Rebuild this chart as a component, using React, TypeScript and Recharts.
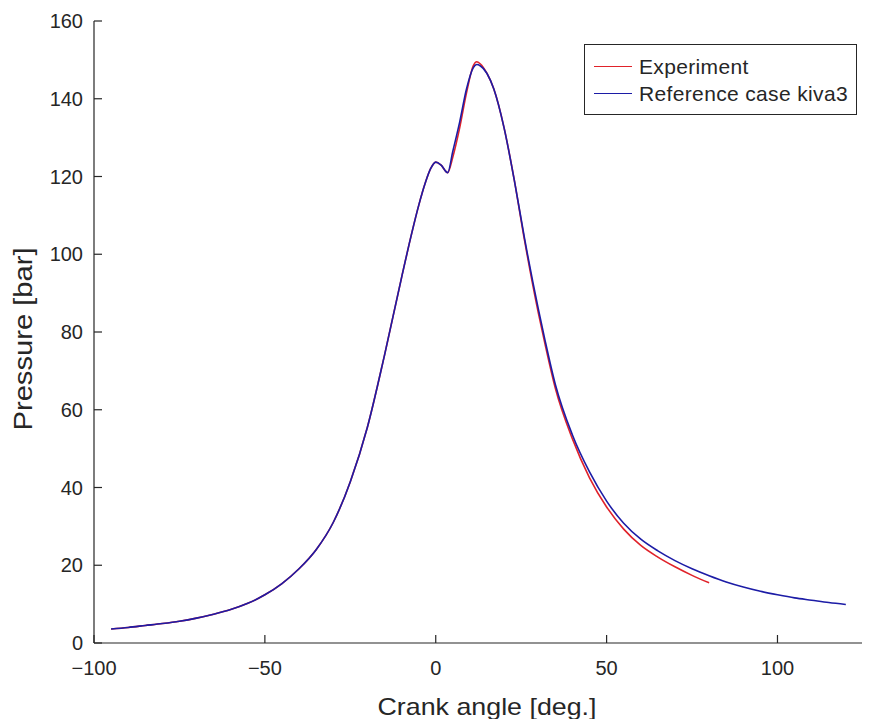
import React from 'react';
import { LineChart, Line, XAxis, YAxis } from 'recharts';

// crank angle [deg] and pressure [bar]
const kivaAngle = [-95, -90, -85, -80, -75, -70, -65, -60, -55, -50, -45, -40, -35, -30, -25, -20, -15, -10, -7, -5, -3, -1.5, 0, 1.5, 3.5, 5, 7, 9, 11, 12, 13, 15, 17, 20, 23, 26, 30, 32, 35, 40, 45, 50, 55, 60, 65, 70, 75, 80, 85, 90, 95, 100, 105, 110, 115, 120];
const kivaPressure = [3.6, 4.0, 4.5, 5.0, 5.6, 6.4, 7.4, 8.6, 10.2, 12.4, 15.3, 19.1, 24, 31, 41.5, 55.5, 74, 94, 105.5, 112.5, 118.5, 122, 123.7, 123, 121, 126.5, 134, 142.5, 148, 148.8, 148.5, 146.5, 142.5, 132.5, 119, 104, 86, 77.8, 66.5, 53.5, 44, 36.5, 30.8, 26.7, 23.7, 21.2, 19.1, 17.3, 15.7, 14.4, 13.3, 12.4, 11.6, 11.0, 10.4, 9.9];

const expAngle = [-95, -90, -85, -80, -75, -70, -65, -60, -55, -50, -45, -40, -35, -30, -25, -20, -15, -10, -7, -5, -3, -1.5, 0, 1.5, 3.5, 5, 7, 9, 11, 12, 13, 15, 17, 20, 23, 26, 30, 32, 35, 40, 45, 50, 55, 60, 65, 70, 75, 80];
const expPressure = [3.6, 4.0, 4.5, 5.0, 5.6, 6.4, 7.4, 8.6, 10.2, 12.4, 15.3, 19.1, 24, 31, 41.5, 55.5, 74, 94, 105.5, 112.5, 118.5, 122, 123.7, 123, 121, 125, 132.5, 141.5, 148.5, 149.5, 149, 146.5, 142.5, 132.5, 119, 103.5, 85, 76.8, 65.5, 52.5, 42.5, 35, 29.3, 25.1, 22.1, 19.6, 17.4, 15.5];

const xTicks = [-100, -50, 0, 50, 100];
const yTicks = [0, 20, 40, 60, 80, 100, 120, 140, 160];

const kivaData = kivaAngle.map((a, i) => ({ angle: a, p: kivaPressure[i] }));
const expData = expAngle.map((a, i) => ({ angle: a, p: expPressure[i] }));

const FONT = '"Liberation Sans", Arial, sans-serif';
const AXIS = '#262626';
const RED = '#e0222a';
const BLUE = '#1c1ca6';

const legendItems = [
  { name: 'Experiment', color: RED },
  { name: 'Reference case kiva3', color: BLUE },
];

const fmtTick = (v: number) => String(v).replace('-', '\u2212');

const LegendBox = () => (
  <div
    style={{
      position: 'absolute',
      left: 576,
      top: 36,
      border: `1px solid ${AXIS}`,
      background: '#fff',
      width: 273,
      height: 71,
      boxSizing: 'border-box',
      padding: '8px 0 0 9px',
      fontFamily: FONT,
      fontSize: 21,
      letterSpacing: 0.35,
      color: AXIS,
    }}
  >
    {legendItems.map((it) => (
      <div key={it.name} style={{ display: 'flex', alignItems: 'center', height: 27 }}>
        <div style={{ width: 38, height: 0, borderTop: `1.5px solid ${it.color}`, marginRight: 7 }} />
        <span style={{ whiteSpace: 'nowrap' }}>{it.name}</span>
      </div>
    ))}
  </div>
);

export default function App() {
  return (
    <div style={{ position: 'relative', width: 862, height: 711, overflow: 'hidden' }}>
      <LineChart width={880} height={711} margin={{ top: 13, right: 8, left: 0, bottom: 0 }}>
        <XAxis
          xAxisId="top"
          orientation="top"
          type="number"
          dataKey="angle"
          domain={[-100, 130]}
          ticks={xTicks}
          height={0}
          tick={false}
          tickSize={-8}
          stroke={AXIS}
          strokeWidth={1.2}
          allowDataOverflow
        />
        <XAxis
          type="number"
          dataKey="angle"
          domain={[-100, 130]}
          ticks={xTicks}
          height={76}
          tickSize={-8}
          tickMargin={26}
          tickFormatter={fmtTick}
          stroke={AXIS}
          strokeWidth={1.2}
          tick={{ fill: AXIS, fontSize: 20, fontFamily: FONT }}
          allowDataOverflow
          label={{
            content: () => (
              <text x={479} y={698} textAnchor="middle" dominantBaseline="central" fill={AXIS} fontSize={24} fontFamily={FONT} textLength={219} lengthAdjust="spacingAndGlyphs">
                Crank angle [deg.]
              </text>
            ),
          }}
        />
        <YAxis
          type="number"
          dataKey="p"
          domain={[0, 160]}
          ticks={yTicks}
          width={86}
          tickSize={-8}
          tickMargin={19}
          stroke={AXIS}
          strokeWidth={1.2}
          tick={{ fill: AXIS, fontSize: 20, fontFamily: FONT }}
          label={{
            content: () => (
              <text x={15} y={331} transform="rotate(-90 15 331)" textAnchor="middle" dominantBaseline="central" fill={AXIS} fontSize={25} fontFamily={FONT} textLength={183} lengthAdjust="spacingAndGlyphs">
                Pressure [bar]
              </text>
            ),
          }}
        />
        <Line
          data={expData}
          dataKey="p"
          name="Experiment"
          type="monotone"
          stroke={RED}
          strokeWidth={1.6}
          dot={false}
          isAnimationActive={false}
        />
        <Line
          data={kivaData}
          dataKey="p"
          name="Reference case kiva3"
          type="monotone"
          stroke={BLUE}
          strokeWidth={1.6}
          dot={false}
          isAnimationActive={false}
        />
      </LineChart>
      <LegendBox />
    </div>
  );
}
